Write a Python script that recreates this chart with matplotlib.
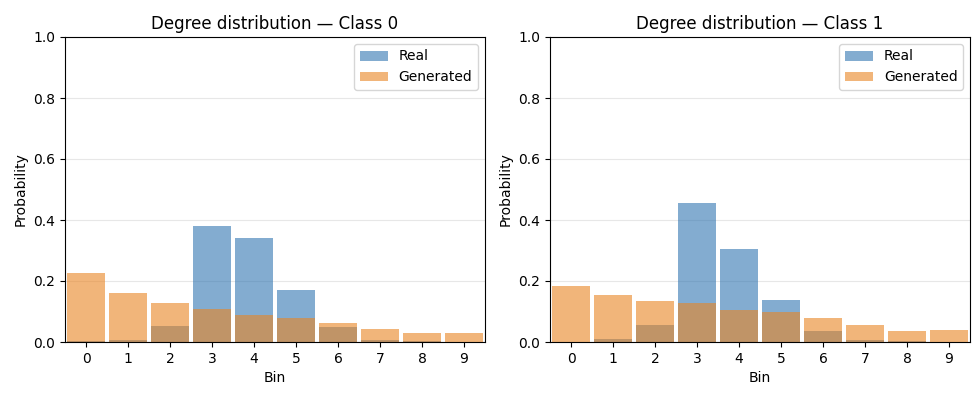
import numpy as np
import matplotlib.pyplot as plt

bins = np.arange(10)

# Class 0
real_c0 = [0.003, 0.007, 0.052, 0.380, 0.341, 0.170, 0.049, 0.005, 0.003, 0.001]
gen_c0 = [0.226, 0.161, 0.128, 0.108, 0.089, 0.079, 0.062, 0.043, 0.030, 0.030]

# Class 1
real_c1 = [0.0, 0.010, 0.056, 0.456, 0.305, 0.138, 0.036, 0.007, 0.003, 0.0]
gen_c1 = [0.184, 0.154, 0.134, 0.128, 0.105, 0.098, 0.079, 0.056, 0.036, 0.039]

fig, axes = plt.subplots(1, 2, figsize=(9.76, 4), dpi=100)

for ax, real, gen, cls in zip(axes, [real_c0, real_c1], [gen_c0, gen_c1], [0, 1]):
    ax.bar(bins, real, width=0.9, alpha=0.6, color='#3075b1', label='Real')
    ax.bar(bins, gen, width=0.9, alpha=0.6, color='#e98421', label='Generated')
    ax.set_title(f'Degree distribution \u2014 Class {cls}')
    ax.set_xlabel('Bin')
    ax.set_ylabel('Probability')
    ax.set_ylim(0, 1)
    ax.set_xlim(-0.5, 9.5)
    ax.set_xticks(bins)
    ax.grid(axis='y', alpha=0.3)
    ax.set_axisbelow(True)
    ax.legend()

fig.subplots_adjust(left=0.0666, right=0.9939, top=0.9075, bottom=0.145, wspace=0.155)
plt.savefig('out.png')
